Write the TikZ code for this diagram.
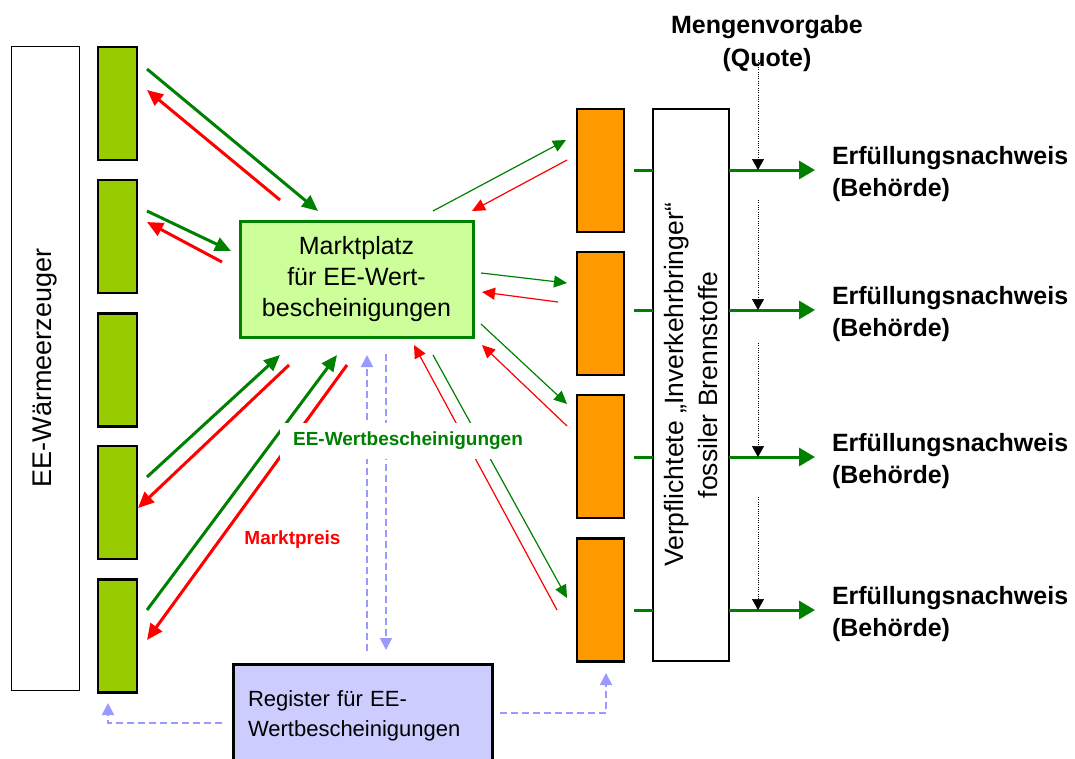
\documentclass[tikz,border=0pt]{standalone}
\usepackage{fontspec}
\setmainfont{Liberation Sans}
\usetikzlibrary{arrows.meta}
\definecolor{mygreen}{HTML}{008000}
\definecolor{myred}{HTML}{FF0000}
\definecolor{boxgreen}{HTML}{99CC00}
\definecolor{mpfill}{HTML}{CCFF99}
\definecolor{myorange}{HTML}{FF9900}
\definecolor{regfill}{HTML}{CCCCFF}
\definecolor{dashblue}{HTML}{9999FF}
\begin{document}
\begin{tikzpicture}[x=1pt,y=-1pt,
  every node/.style={outer sep=0pt, inner sep=0pt},
  genbox/.style={draw=black, line width=2.2pt, fill=boxgreen, minimum width=39pt, minimum height=113pt},
  obox/.style={draw=black, line width=2.2pt, fill=myorange, minimum width=47pt, minimum height=123pt},
  thickg/.style={draw=mygreen, line width=3pt, -{Triangle[length=16pt,width=14pt]}},
  thickr/.style={draw=myred, line width=3pt, -{Triangle[length=16pt,width=14pt]}},
  thing/.style={draw=mygreen, line width=1.2pt, -{Triangle[length=13pt,width=12pt]}},
  thinr/.style={draw=myred, line width=1.2pt, -{Triangle[length=13pt,width=12pt]}},
  bluedash/.style={draw=dashblue, line width=1.8pt, dash pattern=on 7pt off 4pt, -{Triangle[length=12pt,width=12pt]}},
  outg/.style={draw=mygreen, line width=3pt, -{Triangle[length=16pt,width=18pt]}},
  stubg/.style={draw=mygreen, line width=3pt},
  quota/.style={draw=black, line width=0.6pt, dash pattern=on 1pt off 1.3pt, -{Triangle[length=11pt,width=12pt]}},
  bigtxt/.style={font=\fontsize{25}{31}\selectfont},
  boldtxt/.style={font=\bfseries\fontsize{25}{32}\selectfont, align=left, anchor=west},
]
\clip (0,0) rectangle (1075,758);

% left generator column
\node[draw=black, line width=1pt, rotate=90, minimum width=644pt, minimum height=68pt,
      font=\fontsize{27}{30}\selectfont] (heat) at (45,368) {EE-Wärmeerzeuger};
\node[genbox] (gb1) at (117.5,103.5) {};
\node[genbox] (gb2) at (117.5,236.5) {};
\node[genbox] (gb3) at (117.5,370) {};
\node[genbox] (gb4) at (117.5,502.5) {};
\node[genbox] (gb5) at (117.5,636) {};

% market place
\node[draw=mygreen, line width=3pt, fill=mpfill, minimum width=233pt, minimum height=116pt,
      align=center, bigtxt] (mp) at (356.5,279) {Marktplatz\\für EE-Wert-\\bescheinigungen};

% register
\node[draw=black, line width=3pt, fill=regfill, anchor=north west, minimum height=104pt,
      text width=229pt, inner xsep=15pt, align=left, font=\fontsize{22}{30}\selectfont]
      (reg) at (233,664) {Register für EE-\\Wertbescheinigungen};

% obliged parties
\node[obox] (ob1) at (600.5,170.5) {};
\node[obox] (ob2) at (600.5,313.5) {};
\node[obox] (ob3) at (600.5,456.5) {};
\node[obox] (ob4) at (600.5,600) {};
\node[draw=black, line width=1.2pt, fill=white, rotate=90, minimum width=552pt, minimum height=76pt,
      align=center, font=\fontsize{26.5}{34}\selectfont] (verp) at (691,385)
      {Verpflichtete „Inverkehrbringer“\\fossiler Brennstoffe};

% coordinates of arrow ends (left)
\coordinate (g1s) at (147,69);  \coordinate (g1e) at (318,211);
\coordinate (r1s) at (280,200); \coordinate (r1e) at (147,90);
\coordinate (g2s) at (147,211); \coordinate (g2e) at (231,251);
\coordinate (r2s) at (222,262); \coordinate (r2e) at (147,222);
\coordinate (g4s) at (147,477); \coordinate (g4e) at (280,355);
\coordinate (r4s) at (289,365); \coordinate (r4e) at (138,508);
\coordinate (g5s) at (147,610); \coordinate (g5e) at (337,355);
\coordinate (r5s) at (347,365); \coordinate (r5e) at (147,640);
% right
\coordinate (h1s) at (433,211); \coordinate (h1e) at (566,140);
\coordinate (q1s) at (567,160); \coordinate (q1e) at (472,211);
\coordinate (h2s) at (481,273); \coordinate (h2e) at (567,283);
\coordinate (q2s) at (558,302); \coordinate (q2e) at (482,292);
\coordinate (h3s) at (481,324); \coordinate (h3e) at (567,404);
\coordinate (q3s) at (567,426); \coordinate (q3e) at (482,345);
\coordinate (h4s) at (433,355); \coordinate (h4e) at (567,598);
\coordinate (q4s) at (557,610); \coordinate (q4e) at (414,345);

\draw[thickg] (g1s) -- (g1e);
\draw[thickr] (r1s) -- (r1e);
\draw[thickg] (g2s) -- (g2e);
\draw[thickr] (r2s) -- (r2e);
\draw[thickg] (g4s) -- (g4e);
\draw[thickr] (r4s) -- (r4e);
\draw[thickg] (g5s) -- (g5e);
\draw[thickr] (r5s) -- (r5e);

\draw[thing] (h1s) -- (h1e);
\draw[thinr] (q1s) -- (q1e);
\draw[thing] (h2s) -- (h2e);
\draw[thinr] (q2s) -- (q2e);
\draw[thing] (h3s) -- (h3e);
\draw[thinr] (q3s) -- (q3e);
\draw[thing] (h4s) -- (h4e);
\draw[thinr] (q4s) -- (q4e);

% register links
\coordinate (bu1) at (367,651); \coordinate (bu2) at (367,355);
\coordinate (bd1) at (386,354); \coordinate (bd2) at (386,650);
\coordinate (bl1) at (222,723); \coordinate (bl2) at (108,703);
\coordinate (br1) at (500,713); \coordinate (br2) at (606,673);
\draw[bluedash] (bu1) -- (bu2);
\draw[bluedash] (bd1) -- (bd2);
\draw[bluedash] (bl1) -| (bl2);
\draw[bluedash] (br1) -| (br2);

% labels on arrows
\node[fill=white, inner xsep=13pt, minimum height=36pt, text=mygreen,
      font=\bfseries\fontsize{19}{22}\selectfont] (lblw) at (408,441) {EE-Wertbescheinigungen};
\node[text=myred, font=\bfseries\fontsize{19}{22}\selectfont] (lblp) at (292.5,540) {Marktpreis};

% stubs and output arrows
\foreach \i/\y in {1/170,2/310,3/457,4/610}{
  \coordinate (st\i) at (634,\y);
  \coordinate (vw\i) at (653,\y);
  \coordinate (ve\i) at (729,\y);
  \coordinate (oe\i) at (815,\y);
  \draw[stubg] (st\i) -- (vw\i);
  \draw[outg] (ve\i) -- (oe\i);
}

% quota
\node[font=\bfseries\fontsize{25}{33}\selectfont, align=center] (mv) at (767,44) {Mengenvorgabe\\(Quote)};
\coordinate (qa1) at (758,60);  \coordinate (qb1) at (758,170);
\coordinate (qa2) at (758,200); \coordinate (qb2) at (758,310);
\coordinate (qa3) at (758,343); \coordinate (qb3) at (758,457);
\coordinate (qa4) at (758,497); \coordinate (qb4) at (758,610);
\draw[quota] (qa1) -- (qb1);
\draw[quota] (qa2) -- (qb2);
\draw[quota] (qa3) -- (qb3);
\draw[quota] (qa4) -- (qb4);

\node[boldtxt] (en1) at (832,174.5) {Erfüllungsnachweis\\(Behörde)};
\node[boldtxt] (en2) at (832,314.5) {Erfüllungsnachweis\\(Behörde)};
\node[boldtxt] (en3) at (832,461.5) {Erfüllungsnachweis\\(Behörde)};
\node[boldtxt] (en4) at (832,614.5) {Erfüllungsnachweis\\(Behörde)};
\end{tikzpicture}
\end{document}
